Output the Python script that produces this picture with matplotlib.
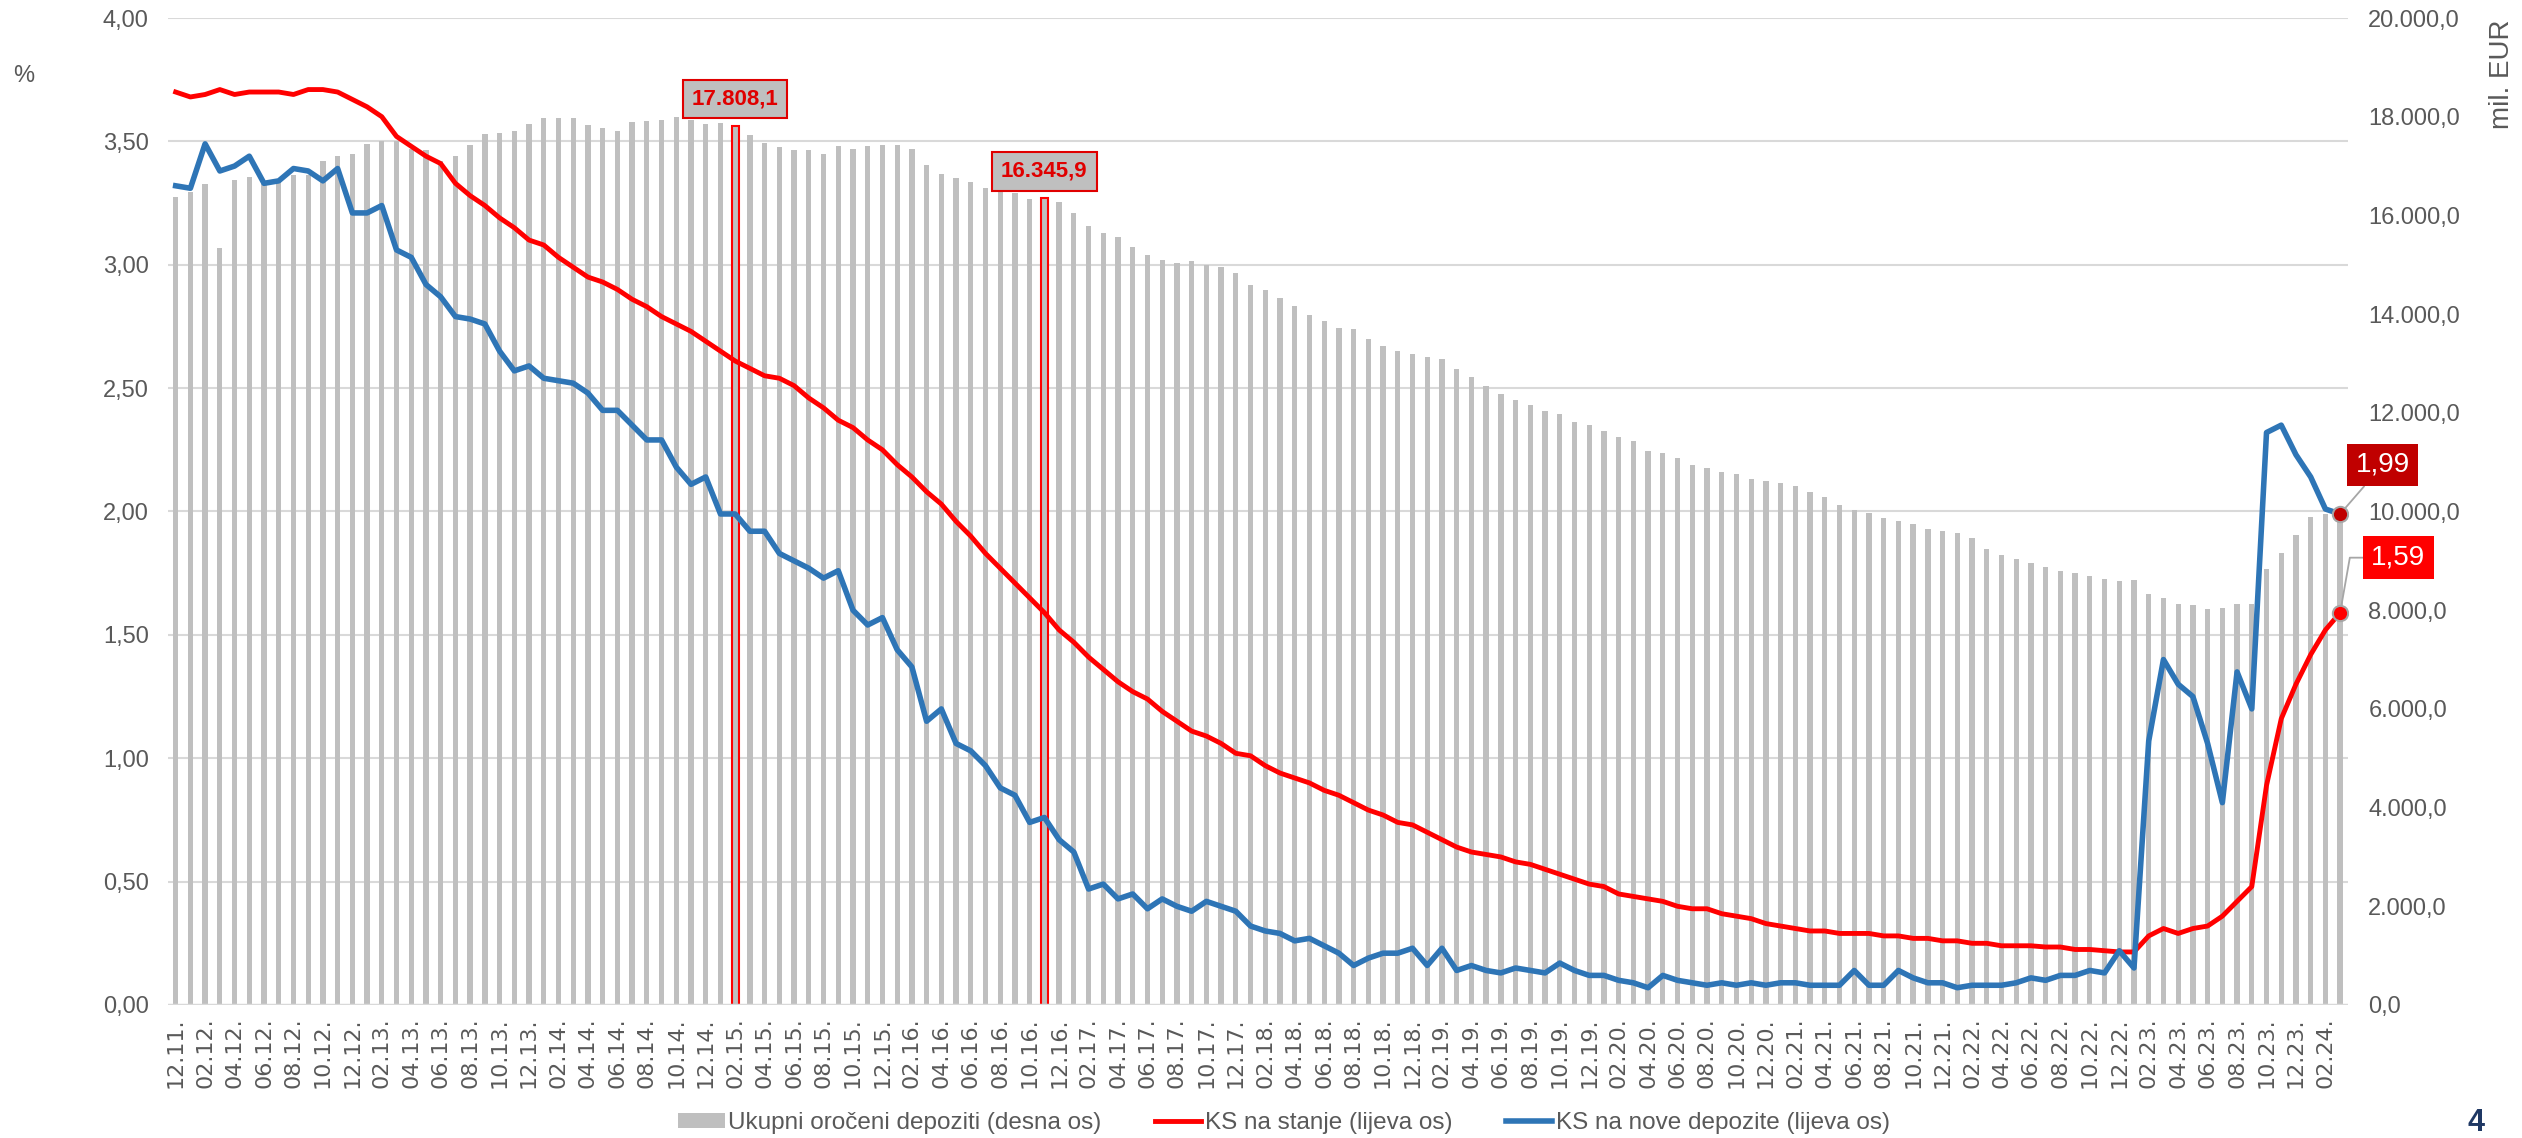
import numpy as np
import matplotlib
matplotlib.use('Agg')
import matplotlib.pyplot as plt
from matplotlib import font_manager
from matplotlib.patches import Patch
from matplotlib.lines import Line2D

# monthly data 12.11. - 03.24.
# ukupni oroceni depoziti, mil. EUR (desna os)
deposits = [
    16380, 16470, 16640, 15347, 16720, 16785, 16630, 16700, 16810, 16820,
    17110, 17200, 17240, 17440, 17500, 17500, 17350, 17330, 17110, 17200,
    17420, 17650, 17670, 17720, 17860, 17970, 17970,
    17970, 17830, 17780, 17710, 17900, 17920, 17935, 18000, 17935, 17845,
    17870, 17808.1, 17635, 17465, 17385, 17320, 17320, 17240, 17400, 17345,
    17410, 17425, 17425, 17345, 17020, 16840, 16760, 16680,
    16560, 16470, 16460, 16340, 16345.9, 16275, 16040, 15790, 15650, 15570,
    15360, 15200, 15100, 15030, 15070, 14995, 14955, 14825, 14590, 14495,
    14325, 14155, 13985, 13855, 13725, 13700, 13490,
    13360, 13255, 13200, 13125, 13100, 12890, 12720, 12550, 12390, 12250,
    12155, 12040, 11975, 11815, 11750, 11635, 11505, 11425, 11230, 11190,
    11085, 10940, 10875, 10810, 10760, 10665, 10615,
    10575, 10510, 10390, 10290, 10130, 10025, 9960, 9870, 9805, 9740,
    9645, 9610, 9570, 9465, 9240, 9125, 9030, 8955, 8875, 8795,
    8760, 8695, 8630, 8590, 8615, 8325, 8250,
    8130, 8105, 8015, 8040, 8120, 8130, 8825, 9165, 9530, 9880, 9950, 9960,
]

# KS na stanje, % (lijeva os)
rate_stock = [
    3.70, 3.68, 3.69, 3.71, 3.69, 3.70, 3.70, 3.70, 3.69, 3.71,
    3.71, 3.70, 3.67, 3.64, 3.60, 3.52, 3.48, 3.44, 3.41, 3.33,
    3.28, 3.24, 3.19, 3.15, 3.10, 3.08, 3.03,
    2.99, 2.95, 2.93, 2.90, 2.86, 2.83, 2.79, 2.76, 2.73, 2.69,
    2.65, 2.61, 2.58, 2.55, 2.54, 2.51, 2.46, 2.42, 2.37, 2.34,
    2.29, 2.25, 2.19, 2.14, 2.08, 2.03, 1.96, 1.90,
    1.83, 1.77, 1.71, 1.65, 1.59, 1.52, 1.47, 1.41, 1.36, 1.31,
    1.27, 1.24, 1.19, 1.15, 1.11, 1.09, 1.06, 1.02, 1.01, 0.97,
    0.94, 0.92, 0.90, 0.87, 0.85, 0.82, 0.79,
    0.77, 0.74, 0.73, 0.70, 0.67, 0.64, 0.62, 0.61, 0.60, 0.58,
    0.57, 0.55, 0.53, 0.51, 0.49, 0.48, 0.45, 0.44, 0.43, 0.42,
    0.40, 0.39, 0.39, 0.37, 0.36, 0.35, 0.33,
    0.32, 0.31, 0.30, 0.30, 0.29, 0.29, 0.29, 0.28, 0.28, 0.27,
    0.27, 0.26, 0.26, 0.25, 0.25, 0.24, 0.24, 0.24, 0.235, 0.235,
    0.225, 0.225, 0.22, 0.215, 0.215, 0.28, 0.31,
    0.29, 0.31, 0.32, 0.36, 0.42, 0.48, 0.89, 1.16, 1.30, 1.42, 1.52, 1.59,
]

# KS na nove depozite, % (lijeva os)
rate_new = [
    3.32, 3.31, 3.49, 3.38, 3.40, 3.44, 3.33, 3.34, 3.39, 3.38,
    3.34, 3.39, 3.21, 3.21, 3.24, 3.06, 3.03, 2.92, 2.87, 2.79,
    2.78, 2.76, 2.65, 2.57, 2.59, 2.54, 2.53,
    2.52, 2.48, 2.41, 2.41, 2.35, 2.29, 2.29, 2.18, 2.11, 2.14,
    1.99, 1.99, 1.92, 1.92, 1.83, 1.80, 1.77, 1.73, 1.76, 1.60,
    1.54, 1.57, 1.44, 1.37, 1.15, 1.20, 1.06, 1.03,
    0.97, 0.88, 0.85, 0.74, 0.76, 0.67, 0.62, 0.47, 0.49, 0.43,
    0.45, 0.39, 0.43, 0.40, 0.38, 0.42, 0.40, 0.38, 0.32, 0.30,
    0.29, 0.26, 0.27, 0.24, 0.21, 0.16, 0.19,
    0.21, 0.21, 0.23, 0.16, 0.23, 0.14, 0.16, 0.14, 0.13, 0.15,
    0.14, 0.13, 0.17, 0.14, 0.12, 0.12, 0.10, 0.09, 0.07, 0.12,
    0.10, 0.09, 0.08, 0.09, 0.08, 0.09, 0.08,
    0.09, 0.09, 0.08, 0.08, 0.08, 0.14, 0.08, 0.08, 0.14, 0.11,
    0.09, 0.09, 0.07, 0.08, 0.08, 0.08, 0.09, 0.11, 0.10, 0.12,
    0.12, 0.14, 0.13, 0.22, 0.15, 1.07, 1.40,
    1.30, 1.25, 1.06, 0.82, 1.35, 1.20, 2.32, 2.35, 2.23, 2.14, 2.01, 1.99,
]

tick_labels = [
    '12.11.',
    '02.12.', '04.12.', '06.12.', '08.12.', '10.12.', '12.12.',
    '02.13.', '04.13.', '06.13.', '08.13.', '10.13.', '12.13.',
    '02.14.', '04.14.', '06.14.', '08.14.', '10.14.', '12.14.',
    '02.15.', '04.15.', '06.15.', '08.15.', '10.15.', '12.15.',
    '02.16.', '04.16.', '06.16.', '08.16.', '10.16.', '12.16.',
    '02.17.', '04.17.', '06.17.', '08.17.', '10.17.', '12.17.',
    '02.18.', '04.18.', '06.18.', '08.18.', '10.18.', '12.18.',
    '02.19.', '04.19.', '06.19.', '08.19.', '10.19.', '12.19.',
    '02.20.', '04.20.', '06.20.', '08.20.', '10.20.', '12.20.',
    '02.21.', '04.21.', '06.21.', '08.21.', '10.21.', '12.21.',
    '02.22.', '04.22.', '06.22.', '08.22.', '10.22.', '12.22.',
    '02.23.', '04.23.', '06.23.', '08.23.', '10.23.', '12.23.',
    '02.24.',
]

highlight_idx = [38, 59]
highlight_text = ['17.808,1', '16.345,9']

legend_labels = ['Ukupni oročeni depoziti (desna os)',
                 'KS na stanje (lijeva os)',
                 'KS na nove depozite (lijeva os)']

GRAY_BAR = '#BFBFBF'
RED = '#FF0000'
BLUE = '#2E75B6'
TXT = '#595959'

names = {f.name for f in font_manager.fontManager.ttflist}
narrow = 'Liberation Sans Narrow' if 'Liberation Sans Narrow' in names else 'Liberation Sans'


def fmt_left(v):
    return f'{v:.2f}'.replace('.', ',')


def fmt_right(v):
    s = f'{v:,.1f}'
    return s.replace(',', ' ').replace('.', ',').replace(' ', '.')


x = np.arange(len(deposits))
dep = np.array(deposits)

fig = plt.figure(figsize=(25.22, 11.38), dpi=100)
ax = fig.add_axes([168.3 / 2522, 133 / 1138, (2347.5 - 168.3) / 2522, 987 / 1138])
ax_l = ax.twinx()
ax.yaxis.tick_right()
ax_l.yaxis.tick_left()

# gridlines (at left-axis steps) behind bars
left_ticks = np.arange(0, 4.01, 0.5)
for v in left_ticks[1:]:
    ax.axhline(v * 5000, color='#D9D9D9', lw=1.5, zorder=0)
ax.axhline(0, color='#D9D9D9', lw=2.5, zorder=4)

ax.bar(x, dep, width=0.36, color=GRAY_BAR, zorder=2)
ax.bar(x[highlight_idx], dep[highlight_idx], width=0.5, color=GRAY_BAR,
       edgecolor=RED, linewidth=1.5, zorder=3)
for i, t in zip(highlight_idx, highlight_text):
    ax.annotate(t, xy=(i, dep[i]), xytext=(0, 19.5), textcoords='offset points',
                ha='center', va='center', fontsize=16, fontweight='bold',
                family='Liberation Sans', color='#E00000', zorder=6,
                bbox=dict(boxstyle='square,pad=0.4', facecolor=GRAY_BAR,
                          edgecolor='#E00000', linewidth=1.5))

ax.set_xlim(-0.5, len(x) - 0.5)
ax.set_ylim(0, 20000)
ax.set_yticks(np.arange(0, 20001, 2000))
ax.set_yticklabels([fmt_right(v) for v in np.arange(0, 20001, 2000)],
                   family='Liberation Sans', fontsize=17, color=TXT, ha='left')
ax.set_xticks(x[::2])
ax.set_xticklabels(tick_labels, rotation=90, family='DejaVu Sans',
                   fontsize=16, color=TXT)
ax.tick_params(axis='both', length=0)
ax.tick_params(axis='y', pad=15)
ax.tick_params(axis='x', pad=9)

ax_l.plot(x, rate_stock, color=RED, lw=3.5, zorder=3, solid_joinstyle='round')
ax_l.plot(x, rate_new, color=BLUE, lw=4, zorder=4, solid_joinstyle='round')
ax_l.plot(x[-1], rate_new[-1], 'o', ms=11, mfc='#C00000', mec='#A6A6A6', mew=1.5, zorder=5)
ax_l.plot(x[-1], rate_stock[-1], 'o', ms=11, mfc=RED, mec='#A6A6A6', mew=1.5, zorder=5)

ax_l.annotate(fmt_left(rate_new[-1]), xy=(x[-1], rate_new[-1]), xytext=(30.6, 35.3),
              textcoords='offset points', ha='center', va='center',
              fontsize=20, color='white', family='Liberation Sans',
              bbox=dict(boxstyle='square,pad=0.3', facecolor='#C00000', edgecolor='none'),
              arrowprops=dict(arrowstyle='-', color='#A6A6A6', lw=1.3,
                              shrinkA=0, shrinkB=5))
ax_l.annotate(fmt_left(rate_stock[-1]), xy=(x[-1], rate_stock[-1]), xytext=(42, 39.6),
              textcoords='offset points', ha='center', va='center',
              fontsize=20, color='white', family='Liberation Sans',
              bbox=dict(boxstyle='square,pad=0.3', facecolor=RED, edgecolor='none'),
              arrowprops=dict(arrowstyle='-', color='#A6A6A6', lw=1.3,
                              shrinkA=0, shrinkB=5,
                              connectionstyle='angle,angleA=0,angleB=80,rad=0'))

ax_l.set_ylim(0, 4)
ax_l.set_yticks(left_ticks)
ax_l.set_yticklabels([fmt_left(v) for v in left_ticks], family='Liberation Sans',
                     fontsize=17, color=TXT)
ax_l.tick_params(axis='y', length=0, pad=14)

for a in (ax, ax_l):
    for s in a.spines.values():
        s.set_visible(False)

fig.text(24 / 2522, 1 - 76 / 1138, '%', color=TXT, fontsize=17,
         family='Liberation Sans', ha='center', va='center')
fig.text(2502 / 2522, 1 - 74 / 1138, 'mil. EUR', color=TXT, fontsize=20,
         family=narrow, rotation=90, ha='center', va='center')
fig.text(2476 / 2522, 1 - 1123 / 1138, '4', color='#1F3864', fontsize=22,
         fontweight='bold', family=narrow, ha='center', va='center')

handles = [Patch(facecolor=GRAY_BAR, edgecolor='none'),
           Line2D([], [], color=RED, lw=3.5),
           Line2D([], [], color=BLUE, lw=4)]
fig.legend(handles, legend_labels, loc='center', bbox_to_anchor=(1284 / 2522, 1 - 1123 / 1138),
           ncol=3, frameon=False,
           prop={'family': narrow, 'size': 21 if narrow != 'Liberation Sans' else 17.5},
           labelcolor=TXT, handlelength=1.9, handleheight=0.55,
           handletextpad=0.15, columnspacing=2.2)

fig.savefig('out.png', dpi=100)
